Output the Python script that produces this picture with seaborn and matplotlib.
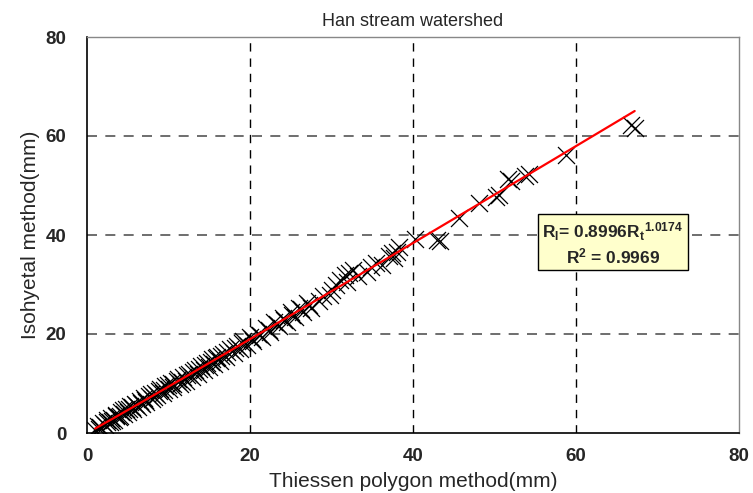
import numpy as np
import pandas as pd
import matplotlib
matplotlib.use("Agg")
import matplotlib.pyplot as plt
import seaborn as sns

# Rainfall estimates: Thiessen polygon method vs isohyetal method (mm)
thiessen = [
    1.0, 1.3, 1.6, 2.0, 2.2, 2.5, 2.8, 3.0, 3.3, 3.6, 3.9, 4.2, 4.5, 4.8, 5.0,
    5.3, 5.6, 5.9, 6.2, 6.5, 6.8, 7.0, 7.3, 7.6, 8.0, 8.3, 8.6, 9.0, 9.3, 9.6,
    10.0, 10.3, 10.6, 11.0, 11.4, 11.8, 12.1, 12.5, 12.9, 13.2, 13.6, 14.0,
    14.3, 14.7, 15.0, 15.3, 15.6, 16.0, 16.3, 16.7, 17.0, 17.5, 18.0, 18.4,
    18.8, 19.2, 19.6, 20.0, 20.4, 21.0, 21.5, 22.0, 22.5, 23.0, 23.5, 24.0,
    24.5, 25.0, 25.5, 26.0, 26.5, 27.0, 27.5, 28.5, 29.0, 29.8, 30.1, 30.5,
    31.0, 31.6, 31.9, 32.2, 32.6, 33.3, 34.3, 34.9, 35.5, 36.2, 37.0, 37.4,
    37.7, 38.0, 38.3, 40.2, 42.9, 43.3, 45.7, 48.1, 50.2, 50.6, 51.6, 52.0,
    53.8, 54.2, 58.8, 66.7, 67.2,
    1.5, 2.4, 3.1, 3.5, 4.0, 4.4, 5.1, 5.5, 6.0, 6.6, 7.1, 7.8, 8.2, 8.8, 9.4,
    9.9, 10.5, 11.2, 11.6, 12.3, 13.0, 13.8, 14.5, 15.2, 15.8, 16.5, 17.2,
    18.2, 19.0, 20.2, 21.2, 22.3, 23.3, 24.2, 25.2, 26.3, 27.2,
]
isohyetal = [
    0.6, 1.4, 1.2, 2.1, 1.7, 2.6, 2.2, 3.1, 2.7, 3.6, 3.2, 4.3, 3.8, 4.9, 4.3,
    5.4, 4.8, 5.9, 5.3, 6.4, 5.9, 7.0, 6.3, 7.4, 6.9, 8.1, 7.6, 8.9, 8.0, 9.4,
    8.8, 10.1, 9.3, 10.6, 10.0, 11.4, 10.6, 12.0, 11.3, 12.8, 12.0, 13.5,
    12.7, 14.2, 13.3, 14.9, 14.0, 15.4, 14.6, 16.0, 15.3, 16.9, 16.2, 17.6,
    17.0, 18.6, 17.8, 19.4, 18.5, 20.1, 19.4, 21.2, 20.5, 22.4, 21.6, 23.3,
    22.5, 24.5, 23.4, 25.3, 24.4, 26.3, 25.2, 26.6, 27.6, 27.9, 28.9, 29.8,
    30.9, 31.9, 30.6, 32.3, 32.9, 31.8, 32.6, 33.6, 34.3, 34.0, 35.8, 36.4,
    35.3, 36.6, 37.6, 39.2, 39.0, 38.7, 43.4, 46.5, 47.7, 48.0, 51.3, 50.9,
    51.9, 52.3, 56.2, 62.2, 61.6,
    0.9, 2.3, 2.5, 3.4, 3.5, 4.6, 4.9, 5.2, 5.6, 6.1, 6.6, 7.9, 7.3, 8.5, 8.6,
    9.7, 9.8, 10.9, 10.4, 11.8, 12.4, 13.0, 13.8, 14.4, 15.1, 15.6, 16.4,
    17.1, 18.1, 19.0, 19.8, 20.9, 22.0, 22.9, 23.9, 25.0, 25.8,
]

# Power-law regression R_I = a * R_t ** b
coef_a = 0.8996
coef_b = 1.0174
r_squared = 0.9969

ticks = [0, 20, 40, 60, 80]

sns.set_theme(style="white")
plt.rcParams["font.family"] = ["Liberation Sans", "DejaVu Sans"]
plt.rcParams["mathtext.fontset"] = "custom"
plt.rcParams["mathtext.rm"] = "Liberation Sans:bold"
plt.rcParams["mathtext.bf"] = "Liberation Sans:bold"
plt.rcParams["mathtext.it"] = "Liberation Sans:bold"

df = pd.DataFrame({"thiessen": thiessen, "isohyetal": isohyetal})

fig = plt.figure(figsize=(7.53, 4.93), dpi=100)
ax = fig.add_axes([87 / 753, 1 - 433 / 493, (739 - 87) / 753, (433 - 37) / 493])

sns.scatterplot(data=df, x="thiessen", y="isohyetal", marker="x", color="black",
                s=150, linewidth=0.9, ax=ax, zorder=3)

fit_x = np.linspace(df["thiessen"].min(), df["thiessen"].max(), 200)
fit = pd.DataFrame({"x": fit_x, "y": coef_a * fit_x ** coef_b})
sns.lineplot(data=fit, x="x", y="y", color="#ff0000", linewidth=1.6, ax=ax, zorder=4)

ax.set_xlim(0, 80)
ax.set_ylim(0, 80)
ax.set_xticks(ticks)
ax.set_yticks(ticks)
ax.tick_params(length=0, labelsize=13.5)
ax.tick_params(axis="x", pad=11)
ax.tick_params(axis="y", pad=15)
for lab in ax.get_xticklabels() + ax.get_yticklabels():
    lab.set_fontweight("bold")

for t in ticks[1:-1]:
    ax.axvline(t, color="black", linestyle=(0, (6, 5)), linewidth=1.0, zorder=1)
    ax.axhline(t, color="#555555", linestyle=(0, (6, 5)), linewidth=1.2, zorder=1)

for side in ["left", "bottom"]:
    ax.spines[side].set_color("black")
    ax.spines[side].set_linewidth(1.2)
for side in ["top", "right"]:
    ax.spines[side].set_color("#888888")
    ax.spines[side].set_linewidth(1.0)

ax.set_title("Han stream watershed", fontsize=13, pad=8)
ax.set_xlabel("Thiessen polygon method(mm)", fontsize=15, labelpad=5)
ax.set_ylabel("Isohyetal method(mm)", fontsize=15, labelpad=4)

label = (r"$\mathbf{R_I}$= " + f"{coef_a:.4f}" + r"$\mathbf{R_t}^{\mathbf{" + f"{coef_b:.4f}" + r"}}$"
         + "\n" + r"$\mathbf{R^2}$ = " + f"{r_squared:.4f}")
ax.text(64.5, 38.3, label, ha="center", va="center", fontsize=12.5, fontweight="bold",
        linespacing=1.15, zorder=5,
        bbox=dict(boxstyle="square,pad=0.25", facecolor="#ffffcc", edgecolor="black",
                  linewidth=1.0))

fig.savefig("out.png", dpi=100)
